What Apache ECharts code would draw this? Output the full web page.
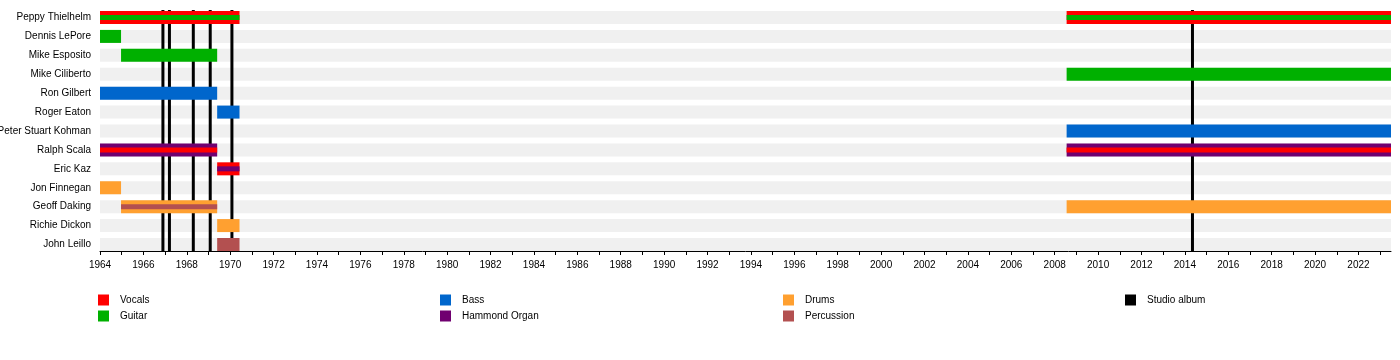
<!DOCTYPE html>
<html>
<head>
<meta charset="utf-8">
<script src="https://cdn.jsdelivr.net/npm/echarts@6/dist/echarts.min.js"></script>
<style>html,body{margin:0;padding:0;background:#fff}#c{width:1400px;height:360px}</style>
</head>
<body>
<div id="c"></div>
<script>
const categories = ['Peppy Thielhelm','Dennis LePore','Mike Esposito','Mike Ciliberto','Ron Gilbert','Roger Eaton','Peter Stuart Kohman','Ralph Scala','Eric Kaz','Jon Finnegan','Geoff Daking','Richie Dickon','John Leillo'];
const startYear = 1964;
const endYear = 2023.5;
const vocalsMain = [['Peppy Thielhelm',1964,1970.43],['Peppy Thielhelm',2008.55,2023.5],['Eric Kaz',1969.4,1970.43]];
const vocalsStripe = [['Ralph Scala',1964,1969.4],['Ralph Scala',2008.55,2023.5]];
const guitarMain = [['Dennis LePore',1964,1964.97],['Mike Esposito',1964.97,1969.4],['Mike Ciliberto',2008.55,2023.5]];
const guitarStripe = [['Peppy Thielhelm',1964,1970.43],['Peppy Thielhelm',2008.55,2023.5]];
const bassMain = [['Ron Gilbert',1964,1969.4],['Roger Eaton',1969.4,1970.43],['Peter Stuart Kohman',2008.55,2023.5]];
const organMain = [['Ralph Scala',1964,1969.4],['Ralph Scala',2008.55,2023.5]];
const organStripe = [['Eric Kaz',1969.4,1970.43]];
const drumsMain = [['Jon Finnegan',1964,1964.97],['Geoff Daking',1964.97,1969.4],['Geoff Daking',2008.55,2023.5],['Richie Dickon',1969.4,1970.43]];
const percussionMain = [['John Leillo',1969.4,1970.43]];
const percussionStripe = [['Geoff Daking',1964.97,1969.4]];
const studioAlbums = [1966.9,1967.2,1968.3,1969.08,1970.08,2014.35];

const colors = {Vocals:'#ff0000', Guitar:'#00b000', Bass:'#0066cc', 'Hammond Organ':'#700070', Drums:'#ffa030', Percussion:'#b35050', 'Studio album':'#000000'};
const FONT = 'Liberation Sans, Arial, sans-serif';

const BAR_H = 13, STRIPE_H = 5;
function toData(arr){ return arr.map(d => [categories.indexOf(d[0]), d[1], d[2]]); }
function barSeries(name, arr, h, z2){
  return {
    type:'custom', name, coordinateSystem:'cartesian2d',
    itemStyle:{color:colors[name]},
    encode:{x:[1,2], y:0},
    data: toData(arr),
    silent:true, animation:false,
    renderItem(params, api){
      const row = api.value(0);
      const a = api.coord([api.value(1), row]);
      const b = api.coord([api.value(2), row]);
      return {type:'rect', z2, shape:{x:a[0], y:a[1]-h/2, width:b[0]-a[0], height:h}, style:{fill:colors[name]}};
    }
  };
}
const bgData = categories.map((c,i)=>[i,startYear,endYear]);
const series = [
  {type:'custom', name:'bg', data:bgData, encode:{x:[1,2],y:0}, silent:true, animation:false,
   renderItem(params, api){
     const row = api.value(0);
     const a = api.coord([api.value(1), row]);
     const b = api.coord([api.value(2), row]);
     return {type:'rect', z2:0, shape:{x:a[0], y:a[1]-BAR_H/2, width:b[0]-a[0], height:BAR_H}, style:{fill:'#f0f0f0'}};
   }},
  {type:'custom', name:'Studio album', itemStyle:{color:'#000'}, data:studioAlbums.map(v=>[v]), encode:{x:0}, silent:true, animation:false,
   renderItem(params, api){
     const x = api.value(0);
     const top = api.coord([x, 0]);
     const bot = api.coord([x, categories.length-1]);
     return {type:'line', z2:1, shape:{x1:top[0], y1:top[1]-BAR_H/2-1, x2:top[0], y2:bot[1]+BAR_H/2+1}, style:{stroke:'#000', lineWidth:3}};
   }},
  barSeries('Vocals', vocalsMain, BAR_H, 2),
  barSeries('Guitar', guitarMain, BAR_H, 2),
  barSeries('Bass', bassMain, BAR_H, 2),
  barSeries('Hammond Organ', organMain, BAR_H, 2),
  barSeries('Drums', drumsMain, BAR_H, 2),
  barSeries('Percussion', percussionMain, BAR_H, 2),
  barSeries('Vocals', vocalsStripe, STRIPE_H, 3),
  barSeries('Guitar', guitarStripe, STRIPE_H, 3),
  barSeries('Hammond Organ', organStripe, STRIPE_H, 3),
  barSeries('Percussion', percussionStripe, STRIPE_H, 3)
];
function legend(names, left){
  return {orient:'vertical', left, top:294.5, padding:0, itemWidth:11, itemHeight:11, itemGap:5, icon:'rect',
    selectedMode:false, data:names, textStyle:{fontFamily:FONT, fontSize:10, color:'#000', padding:[0,0,0,6]}};
}
const chart = echarts.init(document.getElementById('c'), null, {renderer:'canvas'});
chart.setOption({
  animation:false,
  grid:{left:100, right:9, top:17.5, bottom:360-244.5, containLabel:false, outerBoundsMode:'none'},
  xAxis:{type:'value', min:startYear, max:endYear, interval:1, offset:6.5,
    axisLine:{show:true, lineStyle:{color:'#000', width:1}},
    axisTick:{show:true, length:4, lineStyle:{color:'#000'}},
    splitLine:{show:false},
    axisLabel:{fontFamily:FONT, fontSize:10, color:'#000', margin:9, showMaxLabel:false,
      formatter:v => (v % 2 === 0 ? String(v) : '')}},
  yAxis:{type:'category', data:categories, inverse:true, boundaryGap:false,
    axisLine:{show:false}, axisTick:{show:false}, splitLine:{show:false},
    axisLabel:{fontFamily:FONT, fontSize:10, color:'#000', margin:9}},
  legend:[legend(['Vocals','Guitar'],98), legend(['Bass','Hammond Organ'],440), legend(['Drums','Percussion'],783), legend(['Studio album'],1125)],
  series
});
</script>
</body>
</html>
